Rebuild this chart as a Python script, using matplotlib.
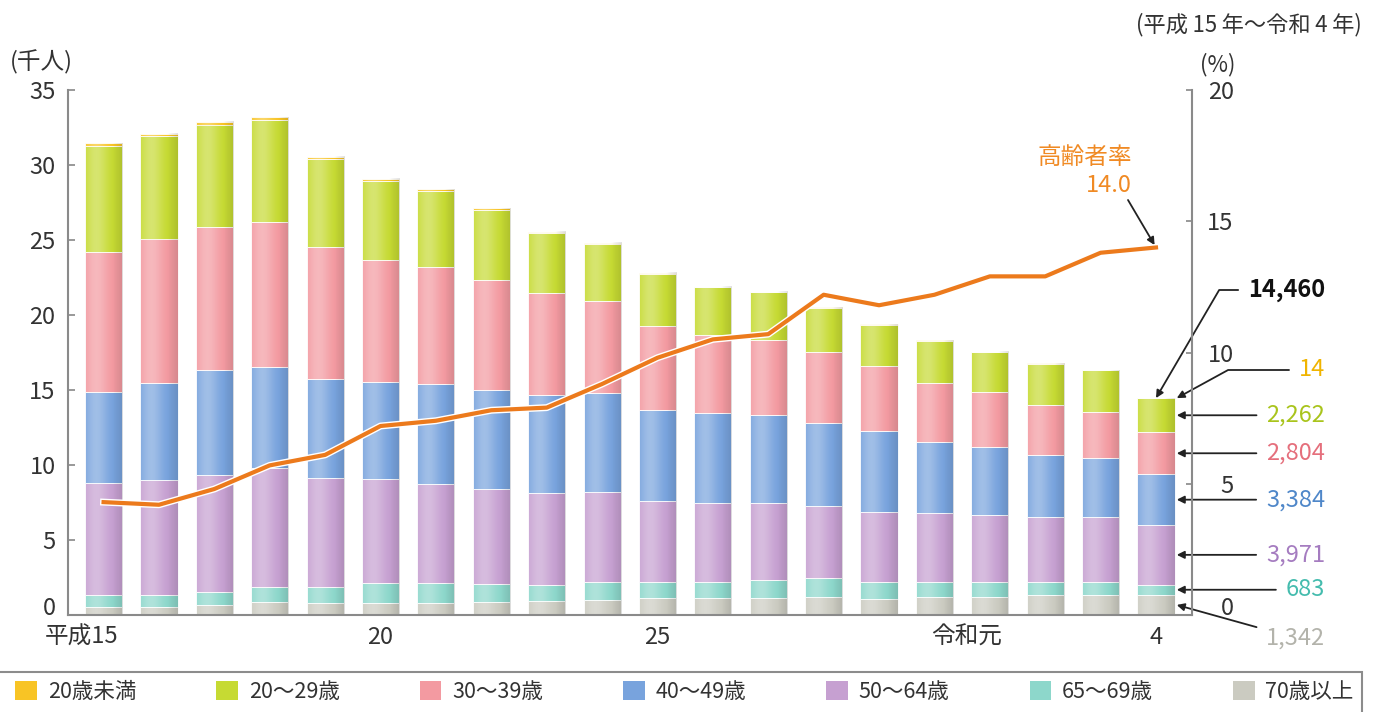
import numpy as np
import matplotlib.pyplot as plt
import matplotlib.patheffects as pe
from matplotlib.patches import Rectangle, Patch
from matplotlib.transforms import ScaledTranslation, blended_transform_factory

plt.rcParams['font.family'] = ['Noto Sans CJK JP', 'DejaVu Sans']

# 平成15年～令和4年
years = np.arange(20)
xtick_pos = [0, 5, 10, 16, 19]
xtick_labels = ['平成15', '20', '25', '令和元', '4']

groups = ['20歳未満', '20～29歳', '30～39歳', '40～49歳', '50～64歳', '65～69歳', '70歳以上']

# 人数（人）
under20 = [200, 180, 200, 220, 180, 150, 120, 100, 80, 70, 60, 50, 50, 40, 40, 30, 30, 30, 20, 14]
age20 = [7020, 6820, 6800, 6780, 5820, 5250, 5080, 4670, 4040, 3790, 3490, 3170, 3180, 2960, 2760, 2810, 2640, 2750, 2750, 2262]
age30 = [9330, 9660, 9570, 9640, 8850, 8140, 7780, 7330, 6770, 6180, 5600, 5230, 5000, 4690, 4330, 3930, 3670, 3330, 3120, 2804]
age40 = [6110, 6440, 7000, 6780, 6600, 6520, 6670, 6620, 6560, 6560, 6050, 6000, 5890, 5550, 5380, 4740, 4550, 4110, 3880, 3384]
age50 = [7450, 7670, 7770, 7940, 7270, 6930, 6620, 6310, 6110, 6040, 5400, 5220, 5110, 4830, 4670, 4640, 4490, 4380, 4380, 3971]
age65 = [770, 770, 890, 940, 1020, 1330, 1290, 1180, 1040, 1180, 1110, 1110, 1220, 1260, 1150, 1000, 960, 850, 850, 683]
age70 = [560, 560, 670, 900, 820, 780, 820, 890, 960, 1000, 1110, 1110, 1110, 1180, 1070, 1180, 1220, 1330, 1330, 1342]

# 高齢者率（%）
elderly_rate = [4.3, 4.2, 4.8, 5.7, 6.1, 7.2, 7.4, 7.8, 7.9, 8.8, 9.8, 10.5, 10.7,
                12.2, 11.8, 12.2, 12.9, 12.9, 13.8, 14.0]

colors = ['#f8c425', '#c6da33', '#f39aa1', '#78a3dd', '#c6a0d1', '#8dd7cb', '#cbcbc1']
label_colors = ['#f0b400', '#a9c41c', '#e56f7c', '#4f87c9', '#a57cc0', '#45bcae', '#b3b3ab']

fig = plt.figure(figsize=(13.76, 7.12), dpi=100)
ax = fig.add_axes([68 / 1376, 97 / 712, 1124 / 1376, 525 / 712])

# 下から積み上げ
stack = list(zip(groups, [under20, age20, age30, age40, age50, age65, age70], colors))[::-1]
w = 0.67
bottom = np.zeros(len(years))
mids_last = {}
for name, vals, c in stack:
    v = np.array(vals) / 1000
    ax.bar(years, v, w, bottom=bottom, color=c, edgecolor='white', linewidth=0.6, zorder=2)
    mids_last[name] = (bottom[-1] + v[-1] / 2)
    bottom = bottom + v
totals = bottom

# 円柱風の陰影
gx = np.linspace(0, 1, 80)
shade = 0.30 * np.exp(-((gx - 0.3) / 0.28) ** 2) - 0.12 * np.clip((gx - 0.55) / 0.45, 0, 1) ** 1.5
img = np.zeros((1, 80, 4))
img[0, :, :3] = np.where(shade > 0, 1.0, 0.0)[:, None]
img[0, :, 3] = np.abs(shade)
for i, t in zip(years, totals):
    ax.imshow(img, extent=(i - w / 2, i + w / 2, 0, t), aspect='auto',
              interpolation='bilinear', zorder=2.5)

ax.set_xlim(-0.642, 19.65)
ax.set_ylim(0, 35)
ax.set_yticks(range(0, 36, 5))
ax.set_xticks(xtick_pos, xtick_labels)
ax.tick_params(axis='x', length=0, pad=8, labelsize=17, labelcolor='#333')
ax.tick_params(axis='y', direction='in', length=5, width=1.2, color='#888', pad=9,
               labelsize=17, labelcolor='#333')
labs = ax.get_xticklabels()
labs[0].set_ha('right')
labs[0].set_transform(labs[0].get_transform() + ScaledTranslation(0.15, 0, fig.dpi_scale_trans))
labs[3].set_transform(labs[3].get_transform() + ScaledTranslation(-0.23, 0, fig.dpi_scale_trans))
for s in ['top', 'right']:
    ax.spines[s].set_visible(False)
for s in ['left', 'bottom']:
    ax.spines[s].set_color('#8a8a8a')
    ax.spines[s].set_linewidth(1.5)

ax2 = ax.twinx()
ax2.set_ylim(0, 20)
ax2.set_yticks(range(0, 21, 5))
ax2.tick_params(axis='y', direction='in', length=4, width=1.2, color='#888', pad=30,
                labelsize=17, labelcolor='#333')
for t in ax2.get_yticklabels():
    t.set_ha('right')
for s in ['top', 'left', 'bottom']:
    ax2.spines[s].set_visible(False)
ax2.spines['right'].set_color('#8a8a8a')
ax2.spines['right'].set_linewidth(1.5)

# 0 の目盛ラベルは少し上へ
for a in (ax, ax2):
    z = a.get_yticklabels()[0]
    z.set_transform(z.get_transform() + ScaledTranslation(0, 0.09, fig.dpi_scale_trans))

ax2.plot(years, elderly_rate, color='#ec7a1c', lw=3, zorder=5,
         path_effects=[pe.Stroke(linewidth=5, foreground='white'), pe.Normal()])

# 注記
arrow = dict(arrowstyle='-|>', color='#222', lw=1.3, mutation_scale=11, shrinkA=5, shrinkB=0)
H = 712
fig.text(1132 / 1376, 1 - 158 / H, '高齢者率', color='#f08a24', fontsize=17, ha='right', va='center')
fig.text(1132 / 1376, 1 - 185 / H, f'{elderly_rate[-1]:.1f}', color='#f08a24', fontsize=17,
         ha='right', va='center')
ax2.annotate('', xy=(years[-1], elderly_rate[-1]), xytext=(1128, H - 200),
             textcoords='figure pixels', arrowprops=dict(arrow, shrinkA=0, shrinkB=2))

xr = years[-1] + w / 2 + 0.04
tx = 1325 / 1376
ax.annotate(f'{int(round(totals[-1] * 1000)):,}', xy=(years[-1], totals[-1]),
            xytext=(tx, 1 - 290 / H), textcoords='figure fraction', ha='right', va='center',
            fontsize=17, fontweight='bold', color='#111',
            arrowprops=dict(arrow, connectionstyle='angle,angleA=0,angleB=59.7,rad=0'))

mixed = blended_transform_factory(fig.transFigure, ax.transData)
last = {name: vals[-1] for name, vals, c in stack}
for name, lc in zip(groups, label_colors):
    txt = f'{last[name]:,}'
    if name == '20歳未満':
        ax.annotate(txt, xy=(xr, totals[-1]), xytext=(tx, 1 - 370 / H),
                    textcoords='figure fraction', ha='right', va='center', fontsize=17, color=lc,
                    arrowprops=dict(arrow, connectionstyle='angle,angleA=0,angleB=28.7,rad=0'))
    elif name == '70歳以上':
        ax.annotate(txt, xy=(xr, mids_last[name]), xytext=(tx, 1 - 638 / H),
                    textcoords='figure fraction', ha='right', va='center', fontsize=17, color=lc,
                    arrowprops=arrow)
    else:
        ax.annotate(txt, xy=(xr, mids_last[name]), xytext=(tx, mids_last[name]),
                    textcoords=mixed, ha='right', va='center', fontsize=17, color=lc,
                    arrowprops=arrow)

fig.text(10 / 1376, 1 - 62 / H, '(千人)', ha='left', va='center', fontsize=17, color='#333')
fig.text(1218 / 1376, 1 - 65 / H, '(%)', ha='center', va='center', fontsize=16, color='#333')
fig.text(1362 / 1376, 1 - 25 / H, '(平成\u200915\u2009年～令和\u20094\u2009年)', ha='right', va='center',
         fontsize=16, color='#333')

# 凡例
handles = [Patch(facecolor=c) for c in colors]
fig.legend(handles, groups, loc='center', bbox_to_anchor=(0.005, 0.0, 0.985, 40 / H),
           mode='expand', ncol=7, frameon=False, fontsize=15.5, handlelength=1.0,
           handleheight=1.0, handletextpad=0.5, borderaxespad=0, labelcolor='#333')
fig.add_artist(Rectangle((-2 / 1376, -10 / H), 1364 / 1376, 50 / H, transform=fig.transFigure,
                         fill=False, edgecolor='#8c8c8c', lw=1.5))

fig.savefig('out.png', dpi=100)
